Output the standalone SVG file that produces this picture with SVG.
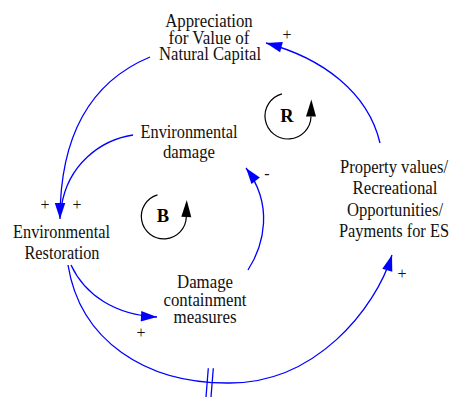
<svg xmlns="http://www.w3.org/2000/svg" width="452" height="397" viewBox="0 0 452 397">
  <defs>
    <style>
      .lbl { font-family: "Liberation Serif", "Times New Roman", serif; font-size: 18px; fill: #111; text-anchor: middle; }
      .pol { font-family: "Liberation Serif", "Times New Roman", serif; font-size: 16px; fill: #111; text-anchor: middle; }
      .loop-tag { font-family: "Liberation Serif", "Times New Roman", serif; font-size: 18.5px; font-weight: bold; fill: #000; text-anchor: middle; }
      .link { fill: none; stroke: #0000ff; stroke-width: 1.3; }
      .link-end { fill: none; stroke: #0000ff; stroke-width: 1.3; marker-end: url(#head); }
      .loop { fill: none; stroke: #000; stroke-width: 1.2; marker-end: url(#loopHead); }
    </style>
    <!-- causal link arrowhead: tip sits on the path end -->
    <marker id="head" markerUnits="userSpaceOnUse" markerWidth="16" markerHeight="11" refX="16" refY="5.25" orient="auto" overflow="visible">
      <path d="M0,0 L16,5.25 L0,10.5 z" fill="#0000ff"/>
    </marker>
    <!-- loop-direction arrowhead: base sits on the path end -->
    <marker id="loopHead" markerUnits="userSpaceOnUse" markerWidth="17" markerHeight="10" refX="0" refY="0" orient="auto" overflow="visible">
      <path d="M0,-5 L17,0 L0,5 z" fill="#000"/>
    </marker>
  </defs>

  <!-- connectors -->
  <g id="links">
    <!-- Appreciation -> Environmental Restoration -->
    <path class="link-end" d="M150,57 C95,80 60,130 60,219"/>
    <!-- Environmental damage -> Environmental Restoration (shares the arrowhead) -->
    <path class="link" d="M133,135 C100,140 68,165 61.5,206"/>
    <!-- Environmental Restoration -> Damage containment measures -->
    <path class="link-end" d="M71,265 C85,295 115,315 157,317"/>
    <!-- Damage containment measures -> Environmental damage -->
    <path class="link-end" d="M248,270 C264,245 274,205 246,168"/>
    <!-- Environmental Restoration -> Property values (delayed) -->
    <path class="link-end" d="M68,265 C80,340 145,384 230,383 C315,383 375,310 392,255"/>
    <!-- delay mark -->
    <path class="link" d="M208.3,368.3 L206,397 M213.3,368.3 L211,397"/>
    <!-- Property values -> Appreciation -->
    <path class="link-end" d="M380,143 C368,92 322,58 266,43"/>
  </g>

  <!-- link polarities -->
  <g id="polarities">
    <text class="pol" x="287" y="40">+</text>
    <text class="pol" x="45" y="210">+</text>
    <text class="pol" x="77" y="210">+</text>
    <text class="pol" x="267" y="179">-</text>
    <text class="pol" x="141" y="338">+</text>
    <text class="pol" x="402" y="279">+</text>
  </g>

  <g id="appreciation">
    <text class="lbl" x="209" y="27" textLength="87.5" lengthAdjust="spacingAndGlyphs">Appreciation</text>
    <text class="lbl" x="209" y="43.5" textLength="81" lengthAdjust="spacingAndGlyphs">for Value of</text>
    <text class="lbl" x="210" y="60" textLength="102" lengthAdjust="spacingAndGlyphs">Natural Capital</text>
  </g>

  <g id="environmental-damage">
    <text class="lbl" x="189" y="137.5" textLength="97" lengthAdjust="spacingAndGlyphs">Environmental</text>
    <text class="lbl" x="189" y="157.5" textLength="52" lengthAdjust="spacingAndGlyphs">damage</text>
  </g>

  <g id="environmental-restoration">
    <text class="lbl" x="61.5" y="238" textLength="97" lengthAdjust="spacingAndGlyphs">Environmental</text>
    <text class="lbl" x="62" y="259" textLength="75" lengthAdjust="spacingAndGlyphs">Restoration</text>
  </g>

  <g id="damage-containment">
    <text class="lbl" x="205" y="288.3" textLength="56" lengthAdjust="spacingAndGlyphs">Damage</text>
    <text class="lbl" x="205" y="305.7" textLength="83" lengthAdjust="spacingAndGlyphs">containment</text>
    <text class="lbl" x="205" y="323.3" textLength="63" lengthAdjust="spacingAndGlyphs">measures</text>
  </g>

  <g id="property-values">
    <text class="lbl" x="394" y="173.3" textLength="108" lengthAdjust="spacingAndGlyphs">Property values/</text>
    <text class="lbl" x="395" y="194.3" textLength="85" lengthAdjust="spacingAndGlyphs">Recreational</text>
    <text class="lbl" x="395" y="215.7" textLength="96" lengthAdjust="spacingAndGlyphs">Opportunities/</text>
    <text class="lbl" x="394" y="236.7" textLength="110" lengthAdjust="spacingAndGlyphs">Payments for ES</text>
  </g>

  <!-- reinforcing loop marker -->
  <g id="loop-r">
    <path class="loop" d="M282,93.8 A23,23 0 1,0 311,116.5"/>
    <text class="loop-tag" x="287" y="122">R</text>
  </g>

  <!-- balancing loop marker -->
  <g id="loop-b">
    <path class="loop" d="M157.5,194.8 A22.5,22.5 0 1,0 186.3,217"/>
    <text class="loop-tag" x="163" y="222.3">B</text>
  </g>
</svg>
